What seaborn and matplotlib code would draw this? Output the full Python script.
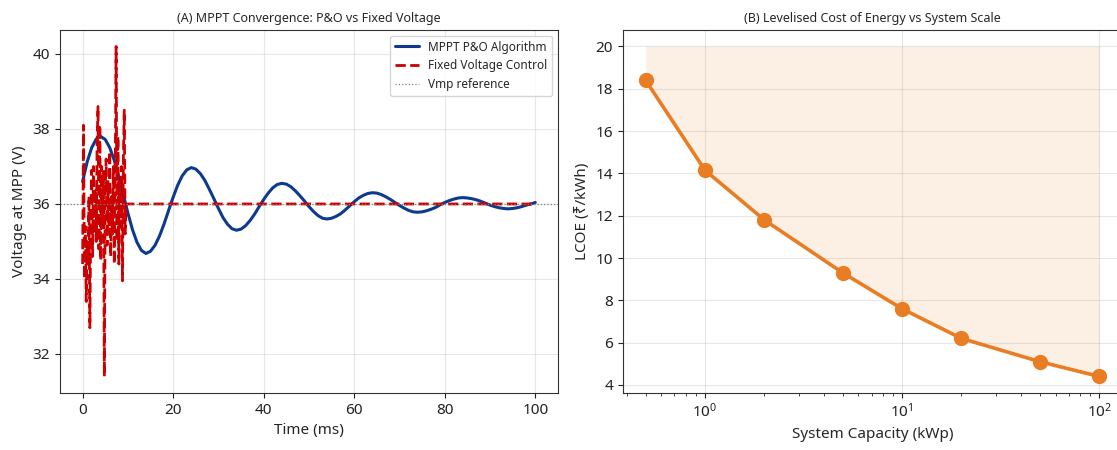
import numpy as np
import matplotlib
matplotlib.use("Agg")
import matplotlib.pyplot as plt
import seaborn as sns

# --- panel A: MPPT convergence ---
t_mppt = list(range(0, 101))
v_mppt = [
    36.60, 37.12, 37.50, 37.73, 37.80, 37.72, 37.50, 37.16, 36.72, 36.24,
    35.76, 35.32, 34.98, 34.76, 34.68, 34.74, 34.90, 35.15, 35.47, 35.83,
    36.18, 36.50, 36.75, 36.91, 36.97, 36.93, 36.81, 36.63, 36.39, 36.14,
    35.88, 35.64, 35.46, 35.34, 35.30, 35.33, 35.42, 35.56, 35.73, 35.93,
    36.12, 36.29, 36.43, 36.52, 36.55, 36.53, 36.46, 36.35, 36.22, 36.08,
    35.93, 35.80, 35.69, 35.62, 35.60, 35.62, 35.67, 35.74, 35.84, 35.95,
    36.06, 36.16, 36.23, 36.28, 36.30, 36.29, 36.25, 36.19, 36.12, 36.04,
    35.96, 35.89, 35.83, 35.79, 35.78, 35.79, 35.82, 35.86, 35.91, 35.98,
    36.04, 36.09, 36.13, 36.16, 36.17, 36.16, 36.14, 36.11, 36.07, 36.02,
    35.97, 35.93, 35.90, 35.88, 35.87, 35.88, 35.90, 35.93, 35.97, 36.00,
    36.04,
]

t_fixed = [
    0.0, 0.2, 0.4, 0.6, 0.8, 1.0, 1.2, 1.4, 1.6, 1.8,
    2.0, 2.2, 2.4, 2.6, 2.8, 3.0, 3.2, 3.4, 3.6, 3.8,
    4.0, 4.2, 4.4, 4.6, 4.8, 5.0, 5.2, 5.4, 5.6, 5.8,
    6.0, 6.2, 6.4, 6.6, 6.8, 7.0, 7.2, 7.4, 7.6, 7.8,
    8.0, 8.2, 8.4, 8.6, 8.8, 9.0, 9.2, 9.4, 9.6, 100.0,
]
v_fixed = [
    34.4, 38.1, 34.0, 35.4, 33.4, 35.0, 34.4, 36.2, 32.7, 35.6,
    36.9, 34.6, 37.0, 35.2, 36.4, 35.0, 37.6, 38.6, 34.8, 38.1,
    34.5, 37.0, 35.5, 36.9, 31.4, 36.4, 37.2, 34.9, 36.6, 35.4,
    37.4, 34.6, 36.2, 35.2, 37.0, 34.4, 36.8, 40.2, 35.0, 37.8,
    34.4, 36.6, 35.6, 37.0, 33.95, 37.2, 38.5, 35.2, 36.0, 36.0,
]
vmp_ref = 36.0

# --- panel B: LCOE vs system scale ---
capacity_kwp = [0.5, 1, 2, 5, 10, 20, 50, 100]
lcoe = [18.4, 14.15, 11.8, 9.3, 7.6, 6.2, 5.1, 4.4]
lcoe_ceiling = 20

sns.set_style("ticks")
plt.rcParams["font.family"] = ["Noto Sans", "DejaVu Sans"]

fig = plt.figure(figsize=(11.17, 4.5), dpi=100)
ax1 = fig.add_axes([0.0537, 0.1267, 0.4458, 0.8067])
ax2 = fig.add_axes([0.5577, 0.1267, 0.4467, 0.8067])

sns.lineplot(x=t_mppt, y=v_mppt, ax=ax1, color="#0d3a8f", lw=2.2,
             label="MPPT P&O Algorithm", sort=False)
sns.lineplot(x=t_fixed, y=v_fixed, ax=ax1, color="#cc0000", lw=2,
             linestyle="--", label="Fixed Voltage Control", sort=False)
ax1.axhline(vmp_ref, color="gray", lw=0.9, linestyle=":", label="Vmp reference")
ax1.set_title("(A) MPPT Convergence: P&O vs Fixed Voltage", fontsize=9)
ax1.set_xlabel("Time (ms)", fontsize=11)
ax1.set_ylabel("Voltage at MPP (V)", fontsize=11)
ax1.set_yticks([32, 34, 36, 38, 40])
ax1.legend(loc="upper right", fontsize=8.5, frameon=True)

orange = "#e87d23"
ax2.fill_between(capacity_kwp, lcoe, lcoe_ceiling, color=orange, alpha=0.12, lw=0)
sns.lineplot(x=capacity_kwp, y=lcoe, ax=ax2, color=orange, lw=2.6,
             marker="o", markersize=11, markeredgewidth=0)
ax2.set_xscale("log")
ax2.set_title("(B) Levelised Cost of Energy vs System Scale", fontsize=9)
ax2.set_xlabel("System Capacity (kWp)", fontsize=11)
ax2.set_ylabel("LCOE (₹/kWh)", fontsize=11)
ax2.set_yticks([4, 6, 8, 10, 12, 14, 16, 18, 20])

for ax in (ax1, ax2):
    ax.grid(True, color="#b0b0b0", alpha=.3, lw=0.8)
    ax.tick_params(labelsize=11, colors="#222222")
    for s in ax.spines.values():
        s.set_color("#333333")

plt.savefig("out.png", dpi=100)
plt.close()
